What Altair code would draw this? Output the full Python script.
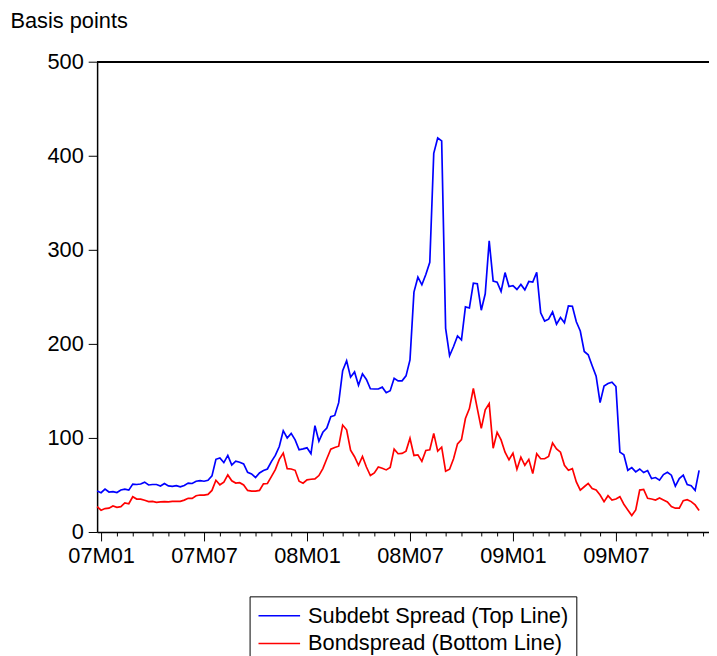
import altair as alt
import pandas as pd

start_date = "2006-12-29"
series_names = ["Subdebt Spread (Top Line)", "Bondspread (Bottom Line)"]
series_colors = ["#0000ff", "#ff0000"]
y_ticks = [0, 100, 200, 300, 400, 500]

subdebt = [
    43.5, 41.8, 45.6, 42.5, 43, 42, 44.7, 45.6, 44.5, 50.9,
    50.5, 51, 53, 50, 50.5, 50.5, 48.9, 51.6, 49, 48.5,
    49.2, 48, 49.5, 52, 51.6, 54, 54.7, 54, 55, 59.6,
    77.3, 78.8, 73.8, 81.4, 71.2, 75.4, 74.2, 72.3, 63.5, 61.8,
    57.9, 62.8, 65.4, 67, 74.8, 81.4, 90.9, 107.7, 100, 104.9,
    97.9, 87.4, 88.4, 89.5, 83.2, 113, 96.5, 106, 110.5, 122.5,
    123.9, 137.5, 171.6, 182.1, 164.6, 170.2, 156.1, 168.1, 162.1, 152.3,
    152, 152, 154, 148.1, 150.2, 163.5, 160.7, 160.7, 166, 183,
    255, 270.9, 262.8, 273.7, 286.7, 402.5, 418.9, 415.8, 216.5, 187.4,
    197.2, 208.4, 204.2, 239.3, 238.2, 264.6, 263.9, 235.8, 253.3, 309.5,
    266.7, 265.6, 255.8, 275.8, 261, 261.8, 257.9, 263.2, 257.5, 266.3,
    265.6, 276.1, 233, 224.2, 226.3, 234, 221, 228, 222.5, 240.4,
    240, 223.5, 213.7, 191.9, 188.4, 176.8, 165.6, 137.5, 155.1, 157.9,
    159.3, 154.7, 84.9, 82.1, 65.6, 68.4, 63.9, 67, 63.2, 65.3,
    56.8, 57.9, 55.1, 61.1, 63.5, 60.4, 48.8, 56.8, 60.4, 50.5,
    49.1, 44.2, 65.6,
]

bondspread = [
    27, 23.2, 24.9, 25.3, 27.7, 26.3, 27, 30.9, 30, 37.5,
    35, 35, 33.7, 32.3, 32.6, 31.6, 32, 32.3, 32, 32.6,
    32.6, 32.6, 33.9, 35.8, 35.8, 38.6, 39.3, 39.3, 40, 44.2,
    55, 50.2, 53, 60.7, 54.4, 52, 52.4, 50, 44.2, 43.5,
    43.5, 44.2, 51.2, 51.6, 58.9, 66.3, 77.2, 83.9, 67.4, 67,
    65.6, 54, 51.9, 55.4, 56.1, 56.4, 60, 67.4, 77.9, 88,
    89.8, 91.2, 113.7, 108.7, 87, 80, 70.9, 80.4, 69.1, 60,
    62.8, 69.1, 67.7, 66, 68.7, 88.1, 83.2, 83.5, 86, 99.6,
    81.4, 82, 75.1, 86.7, 87.4, 104.9, 86, 90.2, 64.6, 66.7,
    77.9, 93.7, 98.2, 120.7, 131.2, 152.6, 131.2, 110.2, 129.8, 136.5,
    89.1, 106, 97.9, 84.9, 76.8, 83.9, 66.7, 79.6, 70.9, 77.2,
    62.1, 83.2, 77.9, 77.9, 80.4, 94.7, 88.4, 84.9, 70.9, 65.6,
    67.4, 53.3, 44.6, 48.1, 51.6, 46.3, 44.6, 39.3, 32.3, 38.6,
    34, 35.1, 37.5, 29.5, 23.5, 17.5, 23.5, 44.6, 45.3, 35.8,
    35.1, 34, 36.1, 34, 31.9, 27, 25.3, 25.3, 33.3, 34.4,
    32.3, 28.8, 22.8,
]

dates = pd.date_range(start_date, periods=len(subdebt), freq="7D")
date_str = [d.strftime("%Y-%m-%d") for d in dates]

df = pd.concat([
    pd.DataFrame({"date": date_str, "value": subdebt, "series": series_names[0]}),
    pd.DataFrame({"date": date_str, "value": bondspread, "series": series_names[1]}),
])

# ticks at the first weekly observation of each month
ext_dates = pd.date_range(start_date, periods=len(subdebt) + 1, freq="7D")
tick_ms = [int(ext_dates[i].value // 10**6) for i in range(1, len(ext_dates))
           if ext_dates[i].month != ext_dates[i - 1].month]

W, H = 618, 475
start_ms = int(pd.Timestamp(start_date).value // 10**6)
end_ms = start_ms + int(W * 7 / 4 * 86400000)

FONT = "Liberation Sans"
FS = 22
major = "utcmonth(datum.value) == 0 || utcmonth(datum.value) == 6"

lines = alt.Chart(df).mark_line(strokeWidth=1.7).encode(
    x=alt.X("date:T",
            scale=alt.Scale(type="utc", domain=[start_ms, end_ms]),
            axis=alt.Axis(values=tick_ms, title=None, grid=False,
                          labelExpr=f"({major}) ? utcFormat(datum.value, '%yM%m') : ''",
                          tickSize={"condition": {"test": major, "value": 9}, "value": 4},
                          labelPadding=5, labelOverlap=False, labelFlush=False,
                          labelFontSize=FS, labelColor="black", labelFont=FONT,
                          tickColor="black", domainColor="black", domainWidth=1.5)),
    y=alt.Y("value:Q",
            scale=alt.Scale(domain=[0, 500], nice=False, zero=True),
            axis=alt.Axis(values=y_ticks, grid=False, tickSize=9, labelPadding=5,
                          labelFontSize=FS, labelColor="black", labelFont=FONT,
                          tickColor="black", domainColor="black", domainWidth=1.5,
                          title="Basis points", titleAngle=0, titleX=-88, titleY=-35,
                          titleAlign="left", titleBaseline="alphabetic",
                          titleFontSize=FS, titleFontWeight="normal",
                          titleFont=FONT, titleColor="black")),
    color=alt.Color("series:N",
                    scale=alt.Scale(domain=series_names, range=series_colors),
                    legend=alt.Legend(orient="none", legendX=154, legendY=540,
                                      title=None, symbolType="M-1,0H3",
                                      symbolSize=441, symbolStrokeWidth=1.5,
                                      symbolFillColor="transparent",
                                      labelFontSize=FS, labelFont=FONT,
                                      labelColor="black", labelOffset=28,
                                      padding=8, rowPadding=5, labelLimit=0,
                                      strokeColor="black", fillColor="white")),
    detail="series:N",
)

top_border = alt.Chart(df).mark_rule(color="black", strokeWidth=1.5).encode(
    x=alt.value(0), x2=alt.value(W), y=alt.value(0)
)

chart = alt.layer(lines, top_border).properties(
    width=W, height=H,
    padding={"left": 90, "top": 51, "right": 0, "bottom": 122},
    autosize=alt.AutoSizeParams(type="none"),
).configure_view(stroke=None)

chart.save("out.html", embed_options={"renderer": "svg", "actions": False})
